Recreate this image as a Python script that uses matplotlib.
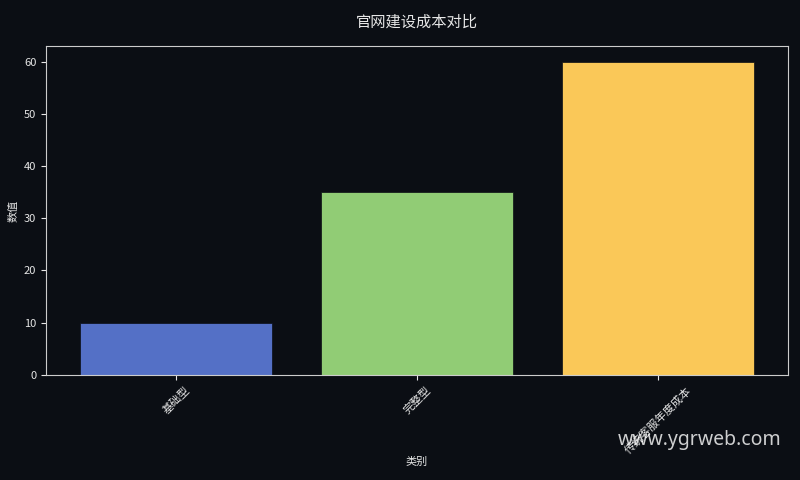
import matplotlib
matplotlib.use('Agg')
import matplotlib.pyplot as plt

plt.rcParams['font.family'] = ['Noto Sans CJK SC', 'DejaVu Sans']

categories = ['基础型', '完整型', '传统客服年度成本']
values = [10, 35, 60]
colors = ['#5470c6', '#91cc75', '#fac858']

bg = '#0b0e14'
fg = '#e6e6e6'

fig, ax = plt.subplots(figsize=(8, 4.8), dpi=100)
fig.patch.set_facecolor(bg)
ax.set_facecolor(bg)

ax.bar(categories, values, color=colors, width=0.8, edgecolor=bg, linewidth=0.5)

ax.set_title('官网建设成本对比', color=fg, fontsize=11, pad=14)
ax.set_xlabel('类别', color=fg, fontsize=8)
ax.xaxis.set_label_coords(0.5, -0.264)
ax.xaxis.label.set_va('center')
ax.set_ylabel('数值', color=fg, fontsize=8)
ax.tick_params(colors=fg, labelsize=8)
plt.setp(ax.get_xticklabels(), rotation=45)
for s in ax.spines.values():
    s.set_color('#cccccc')

fig.subplots_adjust(left=0.0575, right=0.985, top=0.904, bottom=0.219)
fig.text(0.977, 0.062, 'www.ygrweb.com', color='white', alpha=0.8,
         fontsize=14, ha='right', va='bottom', family=['Noto Sans', 'DejaVu Sans'])

fig.savefig('out.png', dpi=100, facecolor=bg)
